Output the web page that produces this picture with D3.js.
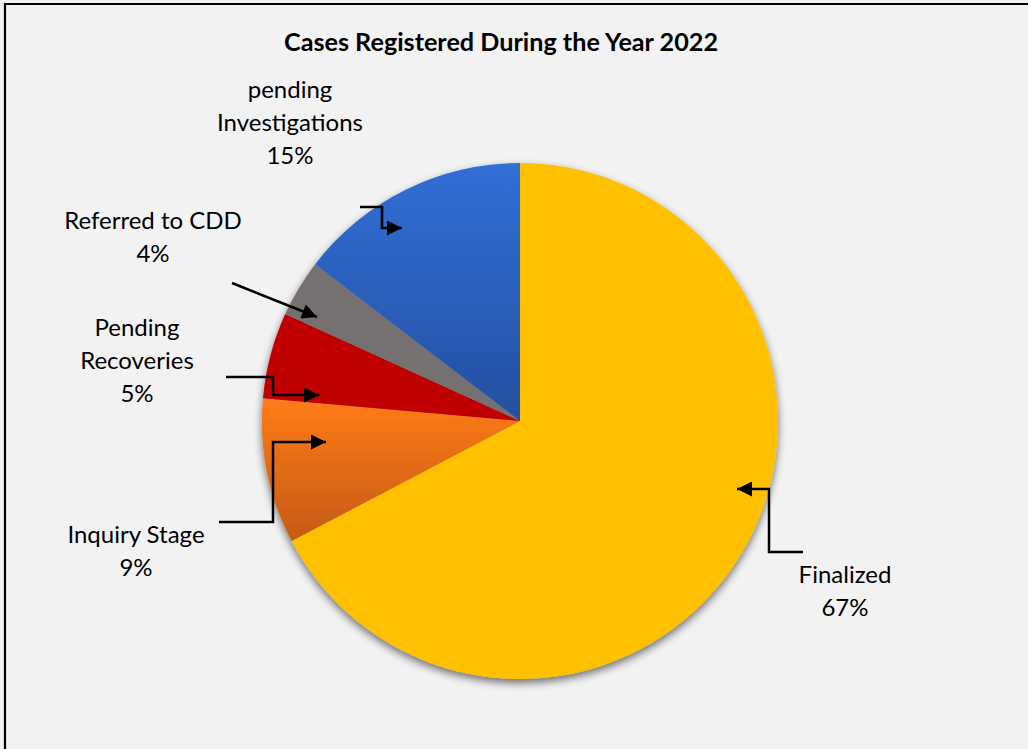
<!DOCTYPE html>
<html>
<head>
<meta charset="utf-8">
<script src="https://cdn.jsdelivr.net/npm/d3@7"></script>
<style>
  html, body { margin: 0; padding: 0; background: #f2f2f2; }
  svg { display: block; }
  text { font-family: Lato, "Open Sans", sans-serif; fill: #000; }
</style>
</head>
<body>
<svg id="chart" width="1028" height="749"></svg>
<script>
// Case status shares for 2022 (percent of registered cases)
const categories = ["Finalized", "Inquiry Stage", "Pending Recoveries", "Referred to CDD", "pending Investigations"];
const values = [67.3, 9.1, 5.4, 3.6, 14.6];
// category names as wrapped on the chart
const nameLines = [
  ["Finalized"],
  ["Inquiry Stage"],
  ["Pending", "Recoveries"],
  ["Referred to CDD"],
  ["pending", "Investigations"]
];

const W = 1028, H = 749;
const cx = 520, cy = 421, R = 258;

const svg = d3.select("#chart");
const defs = svg.append("defs");

// frame
svg.append("rect").attr("x", 0).attr("y", 0).attr("width", W).attr("height", H).attr("fill", "#f2f2f2");
svg.append("path").attr("d", `M5,${H} V4 H${W}`).attr("fill", "none").attr("stroke", "#000").attr("stroke-width", 2.2);

svg.append("text")
  .attr("x", 501).attr("y", 51)
  .attr("text-anchor", "middle")
  .attr("font-size", 25).attr("font-weight", "bold")
  .attr("textLength", 434).attr("lengthAdjust", "spacingAndGlyphs")
  .text("Cases Registered During the Year 2022");

// fills
function vgrad(id, top, bottom) {
  const g = defs.append("linearGradient").attr("id", id).attr("x1", 0).attr("y1", 0).attr("x2", 0).attr("y2", 1);
  g.append("stop").attr("offset", "0%").attr("stop-color", top);
  g.append("stop").attr("offset", "100%").attr("stop-color", bottom);
  return `url(#${id})`;
}
const fills = [
  "#ffc000",
  vgrad("gOrange", "#ff7b1a", "#c55a11"),
  "#c00000",
  "#767171",
  vgrad("gBlue", "#306fd6", "#2550a0")
];

const shadow = defs.append("filter").attr("id", "shadow").attr("x", "-10%").attr("y", "-10%").attr("width", "120%").attr("height", "125%");
shadow.append("feGaussianBlur").attr("in", "SourceAlpha").attr("stdDeviation", 4).attr("result", "b");
shadow.append("feOffset").attr("in", "b").attr("dx", 0).attr("dy", 4).attr("result", "o");
shadow.append("feComponentTransfer").attr("in", "o").attr("result", "s")
  .append("feFuncA").attr("type", "linear").attr("slope", 0.55);
const merge = shadow.append("feMerge");
merge.append("feMergeNode").attr("in", "s");
merge.append("feMergeNode").attr("in", "SourceGraphic");

const pie = d3.pie().sort(null).value(d => d)(values);
const arc = d3.arc().innerRadius(0).outerRadius(R);

const g = svg.append("g").attr("transform", `translate(${cx},${cy})`).attr("filter", "url(#shadow)");
g.selectAll("path").data(pie).join("path")
  .attr("d", arc)
  .attr("fill", (d, i) => fills[i]);

// leader lines (path points) and label anchors
const leaders = [
  [[803, 552], [769, 552], [769, 489], [737, 489]],
  [[219, 522], [273, 522], [273, 442], [326, 442]],
  [[226, 377], [273, 377], [273, 395], [319, 395]],
  [[232, 283], [317, 317]],
  [[360, 207], [382, 207], [382, 228], [402, 228]]
];
const labelPos = [[845, 583], [136, 543], [137, 336], [153, 229], [290, 98]];
const lineGap = 33;

defs.append("marker").attr("id", "arrow")
  .attr("viewBox", "0 0 10 10").attr("refX", 10).attr("refY", 5)
  .attr("markerWidth", 7).attr("markerHeight", 6).attr("markerUnits", "strokeWidth")
  .attr("orient", "auto")
  .append("path").attr("d", "M0,0 L10,5 L0,10 Z").attr("fill", "#000");

svg.append("g").selectAll("path").data(leaders).join("path")
  .attr("d", d => d3.line()(d))
  .attr("fill", "none").attr("stroke", "#000").attr("stroke-width", 2.5)
  .attr("marker-end", "url(#arrow)");

const pct = d3.format(".0%");
const total = d3.sum(values);
const labelLines = nameLines.map((n, i) => n.concat(pct(values[i] / total)));

const labels = svg.append("g").selectAll("text").data(labelLines).join("text")
  .attr("text-anchor", "middle")
  .attr("font-size", 24)
  .attr("x", (d, i) => labelPos[i][0])
  .attr("y", (d, i) => labelPos[i][1]);
labels.each(function(lines, i) {
  d3.select(this).selectAll("tspan").data(lines).join("tspan")
    .attr("x", labelPos[i][0])
    .attr("dy", (l, j) => j === 0 ? 0 : lineGap)
    .text(l => l);
});
</script>
</body>
</html>
